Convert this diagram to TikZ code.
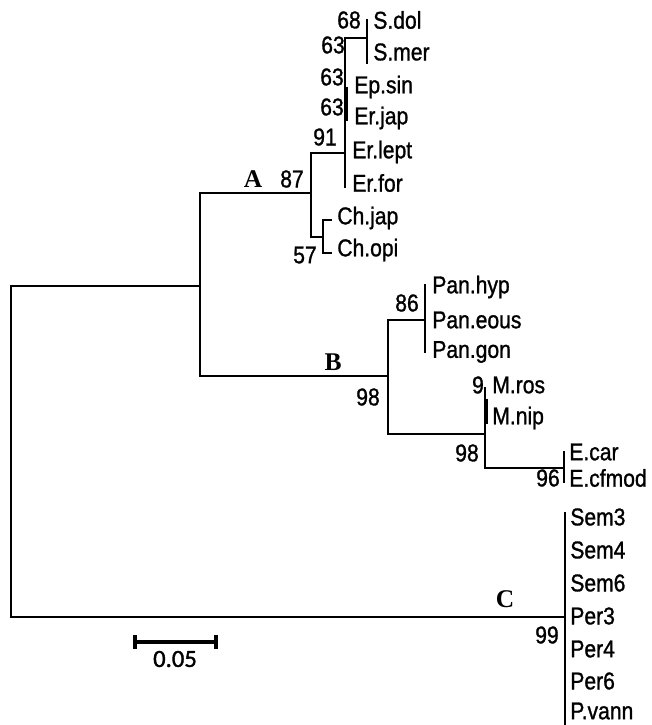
\documentclass[tikz,border=0pt]{standalone}
\usepackage{fontspec}
\setmainfont{Liberation Sans}
\newfontfamily\taxfont[FakeBold=1.2]{Liberation Sans}
\newfontfamily\barfont[FakeBold=1.5]{Carlito}
\newfontfamily\cladefont{Liberation Serif}
\usetikzlibrary{positioning,calc}

\tikzset{
    branch/.style={line width=1.2pt, line cap=rect},
    taxon/.style={anchor=west, inner sep=0pt, yscale=1.15, transform shape, font=\taxfont\fontsize{12}{14}\selectfont},
    boot/.style={inner sep=0pt, yscale=1.15, transform shape, font=\taxfont\fontsize{12}{14}\selectfont},
    cladelbl/.style={inner sep=0pt, font=\cladefont\bfseries\fontsize{14.5}{16}\selectfont}
}

\begin{document}
\begin{tikzpicture}[x=0.02cm, y=-0.02cm]
    \useasboundingbox (0,0) rectangle (652,725);

    % Internal nodes of the tree
    \coordinate (root) at (11,286);
    \coordinate (nAB) at (200,286);
    \coordinate (nA) at (311,193);
    \coordinate (nEr) at (345,153);
    \coordinate (nS) at (367,38);
    \coordinate (nCh) at (323,237);
    \coordinate (nB) at (388,376);
    \coordinate (nPan) at (425,320);
    \coordinate (nME) at (485,434);
    \coordinate (nE) at (564,468);
    \coordinate (nC) at (565,617);

    % Taxa - clade A
    \node[taxon] (sdol) at (373,20) {S.dol};
    \node[taxon] (smer) at (373,52) {S.mer};
    \node[taxon] (epsin) at (354,87) {Ep.sin};
    \node[taxon] (erjap) at (354,118) {Er.jap};
    \node[taxon] (erlept) at (352,152) {Er.lept};
    \node[taxon] (erfor) at (352,183) {Er.for};
    \node[taxon] (chjap) at (337,218) {Ch.jap};
    \node[taxon] (chopi) at (337,250) {Ch.opi};

    % Taxa - clade B
    \node[taxon] (panhyp) at (432,287) {Pan.hyp};
    \node[taxon] (paneous) at (432,320) {Pan.eous};
    \node[taxon] (pangon) at (432,352) {Pan.gon};
    \node[taxon] (mros) at (492,385) {M.ros};
    \node[taxon] (mnip) at (492,418) {M.nip};
    \node[taxon] (ecar) at (569,452) {E.car};
    \node[taxon] (ecfmod) at (569,478) {E.cfmod};

    % Taxa - clade C
    \node[taxon] (sem3) at (570,517) {Sem3};
    \node[taxon] (sem4) at (570,550) {Sem4};
    \node[taxon] (sem6) at (570,583) {Sem6};
    \node[taxon] (per3) at (570,616) {Per3};
    \node[taxon] (per4) at (570,649) {Per4};
    \node[taxon] (per6) at (570,681) {Per6};
    \node[taxon] (pvann) at (570,711) {P.vann};

    % Backbone
    \draw[branch] (root) -- (nAB);
    \draw[branch] (root) |- (nC);
    \draw[branch] (nAB) |- (nA);
    \draw[branch] (nAB) |- (nB);

    % Clade A branches
    \draw[branch] (nA) |- (nEr);
    \draw[branch] (nA) |- (nCh);
    \draw[branch] (nEr) |- (nS);
    \draw[branch] (nEr) -- (345,187);
    \draw[branch] (347,88) -- (347,120);
    \draw[branch] (367,20) -- (367,63);
    \draw[branch] (331,220) -| (nCh) |- (331,253);

    % Clade B branches
    \draw[branch] (nB) |- (nPan);
    \draw[branch] (nB) |- (nME);
    \draw[branch] (425,285) -- (425,352);
    \draw[branch] (nME) |- (nE);
    \draw[branch] (485,388) -- (nME);
    \draw[branch] (487,400) -- (487,423);
    \draw[branch] (564,452) -- (564,482);

    % Clade C branch
    \draw[branch] (565,513) -- (565,735);

    % Bootstrap values
    \node[boot] (b68) at (349,20) {68};
    \node[boot] (b63a) at (333,45) {63};
    \node[boot] (b63b) at (332,77) {63};
    \node[boot] (b63c) at (332,107) {63};
    \node[boot] (b91) at (325,137) {91};
    \node[boot] (b87) at (292,179) {87};
    \node[boot] (b57) at (305,255) {57};
    \node[boot] (b86) at (407,303) {86};
    \node[boot] (b98a) at (368,397) {98};
    \node[boot] (b9) at (478,385) {9};
    \node[boot] (b98b) at (467,453) {98};
    \node[boot] (b96) at (548,478) {96};
    \node[boot] (b99) at (547,635) {99};

    % Clade labels
    \node[cladelbl] (labA) at (253,179) {A};
    \node[cladelbl] (labB) at (333,362) {B};
    \node[cladelbl] (labC) at (505,599) {C};

    % Scale bar
    \coordinate (sbl) at (135,642);
    \coordinate (sbr) at (216,642);
    \draw[line width=2pt] (sbl) -- (sbr);
    \draw[line width=2.2pt] ($(sbl)+(0,-7)$) -- ($(sbl)+(0,7)$);
    \draw[line width=2.2pt] ($(sbr)+(0,-7)$) -- ($(sbr)+(0,7)$);
    \node[inner sep=0pt, font=\barfont\fontsize{14}{16}\selectfont] (sblbl) at (175,659) {0.05};
\end{tikzpicture}
\end{document}
